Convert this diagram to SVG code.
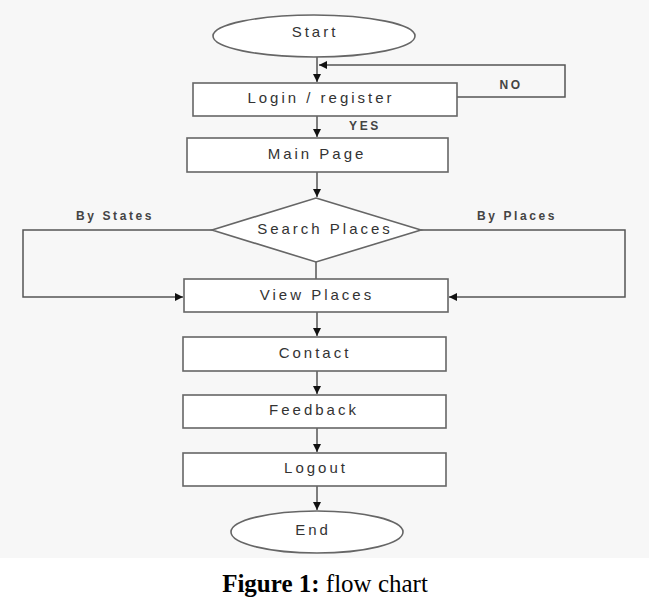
<svg xmlns="http://www.w3.org/2000/svg" width="649" height="608" viewBox="0 0 649 608">
<style>
.box{fill:#ffffff;stroke:#666;stroke-width:1.6}
.ln{fill:none;stroke:#555;stroke-width:1.5}
.t{font-family:"Liberation Sans",Arial,sans-serif;font-size:15px;fill:#333;text-anchor:middle;dominant-baseline:middle;letter-spacing:3px}
.s{font-size:12px;font-weight:bold;fill:#444;letter-spacing:2.6px}
.cap{font-family:"Liberation Serif","DejaVu Serif",serif;font-size:25px;fill:#000;text-anchor:middle}
</style>
<defs>
<marker id="ah" viewBox="0 0 10 10" refX="10" refY="5" markerWidth="8" markerHeight="8" markerUnits="userSpaceOnUse" orient="auto">
<path d="M0,0 L10,5 L0,10 z" fill="#111"/>
</marker>
</defs>
<rect x="0" y="0" width="649" height="558" fill="#f7f7f7"/>
<g id="connectors">
<line class="ln" x1="317" y1="57" x2="317" y2="82" marker-end="url(#ah)"/>
<polyline class="ln" points="457,97 565,97 565,65 319,65" marker-end="url(#ah)"/>
<line class="ln" x1="317" y1="116" x2="317" y2="137" marker-end="url(#ah)"/>
<line class="ln" x1="317" y1="172" x2="317" y2="197" marker-end="url(#ah)"/>
<polyline class="ln" points="212,230 23,230 23,297 183,297" marker-end="url(#ah)"/>
<polyline class="ln" points="421,230 625,230 625,297 449,297" marker-end="url(#ah)"/>
<line class="ln" x1="316" y1="262" x2="316" y2="279"/>
<line class="ln" x1="317" y1="312" x2="317" y2="336" marker-end="url(#ah)"/>
<line class="ln" x1="317" y1="371" x2="317" y2="394" marker-end="url(#ah)"/>
<line class="ln" x1="317" y1="428" x2="317" y2="452" marker-end="url(#ah)"/>
<line class="ln" x1="317" y1="486" x2="317" y2="510" marker-end="url(#ah)"/>
<text class="t s" x="511" y="86">NO</text>
<text class="t s" x="365" y="127">YES</text>
<text class="t s" x="115" y="217">By States</text>
<text class="t s" x="517" y="217">By Places</text>
</g>
<g id="start">
<ellipse class="box" cx="314" cy="36" rx="101" ry="21"/>
<text class="t" x="315" y="33">Start</text>
</g>
<g id="login">
<rect class="box" x="193" y="83" width="264" height="33"/>
<text class="t" x="321" y="99">Login / register</text>
</g>
<g id="main">
<rect class="box" x="187" y="138" width="261" height="34"/>
<text class="t" x="317" y="155">Main Page</text>
</g>
<g id="search">
<polygon class="box" points="316,198 421,230 316,262 212,230"/>
<text class="t" x="325" y="230">Search Places</text>
</g>
<g id="view">
<rect class="box" x="184" y="279" width="264" height="33"/>
<text class="t" x="317" y="296">View Places</text>
</g>
<g id="contact">
<rect class="box" x="183" y="337" width="263" height="34"/>
<text class="t" x="315" y="354">Contact</text>
</g>
<g id="feedback">
<rect class="box" x="183" y="395" width="263" height="33"/>
<text class="t" x="314" y="411">Feedback</text>
</g>
<g id="logout">
<rect class="box" x="183" y="453" width="263" height="33"/>
<text class="t" x="316" y="469">Logout</text>
</g>
<g id="end">
<ellipse class="box" cx="317" cy="532" rx="86" ry="21"/>
<text class="t" x="313" y="531">End</text>
</g>
<text class="cap" x="325" y="592"><tspan font-weight="bold">Figure 1:</tspan> flow chart</text>
</svg>
